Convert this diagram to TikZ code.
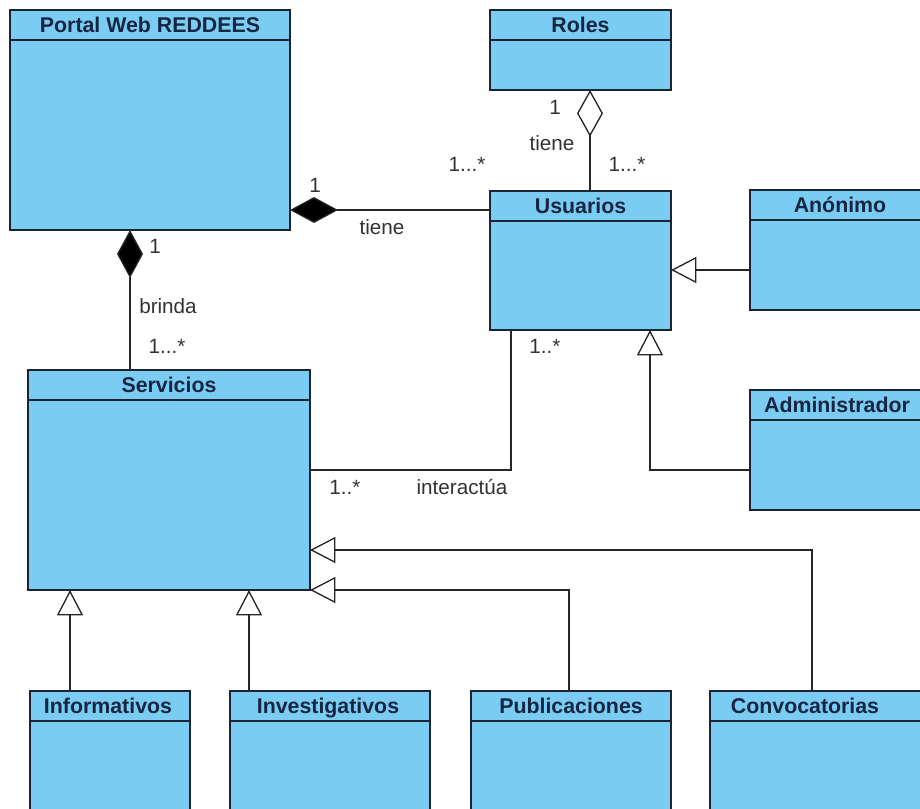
\documentclass[tikz,border=0pt]{standalone}
\usepackage{fontspec}
\setmainfont{Liberation Sans}
\usetikzlibrary{fit,calc,arrows.meta}

\definecolor{clsfill}{RGB}{122,204,242}
\definecolor{clsborder}{RGB}{28,36,52}
\definecolor{clstext}{RGB}{22,38,66}
\definecolor{lbltext}{RGB}{50,50,50}

% one UML class: name, x1, y1, x2, y2, title x, title
\newcommand\umlclass[7]{%
  \coordinate (#1-nw) at (#2,#3);
  \coordinate (#1-se) at (#4,#5);
  \node[clsbox, fit=(#1-nw)(#1-se)] (#1) {};
  \draw[clsrule] (#2,#3+30) -- (#4,#3+30);
  \node[clstitle] (#1-title) at (#6,#3+22.5) {#7};
}

\tikzset{
  clsbox/.style={draw=clsborder, fill=clsfill, line width=1.1pt, inner sep=0pt, outer sep=0pt},
  clsrule/.style={draw=clsborder, line width=1.1pt},
  clstitle/.style={text=clstext, font=\fontsize{16}{18}\selectfont\bfseries, inner sep=0pt, anchor=base},
  lbl/.style={text=lbltext, font=\fontsize{15.5}{18}\selectfont, inner sep=0pt},
  conn/.style={draw=black!85, line width=1pt},
  compo/.style={conn, -{Diamond[length=36pt,width=19.5pt,fill=black]}},
  aggr/.style={conn, -{Diamond[open,length=35pt,width=19.5pt]}},
  gen/.style={conn, -{Triangle[open,length=19pt,width=19.5pt]}},
}

\begin{document}
\begin{tikzpicture}[x=0.75pt,y=-0.75pt]
\useasboundingbox (0,0) rectangle (920,809);

% classes
\umlclass{portal}{10}{10}{290}{230}{150}{Portal Web REDDEES}
\umlclass{roles}{490}{10}{671}{90}{580.5}{Roles}
\umlclass{usuarios}{490}{191}{671}{330}{580.5}{Usuarios}
\umlclass{anonimo}{750}{190}{935}{310}{840}{Anónimo}
\umlclass{admin}{750}{390}{935}{510}{837}{Administrador}
\umlclass{servicios}{28}{370}{310}{590}{169}{Servicios}
\umlclass{informativos}{30}{691}{190}{830}{108}{Informativos}
\umlclass{investigativos}{230}{691}{430}{830}{328}{Investigativos}
\umlclass{publicaciones}{471}{691}{671}{830}{571}{Publicaciones}
\umlclass{convocatorias}{710}{691}{935}{830}{805}{Convocatorias}

% Portal -- Usuarios (composition)
\draw[compo] ($(usuarios.north west)+(0,19)$) coordinate (u1) -- (portal.east |- u1);
\node[lbl] (m1) at (315,185) {1};
\node[lbl] (t1) at (382,227) {tiene};
\node[lbl] (m2) at (467,164) {1...*};

% Portal -- Servicios (composition)
\draw[compo] ($(servicios.north west)+(102,0)$) coordinate (s1) -- (portal.south -| s1);
\node[lbl] (m3) at (155,246) {1};
\node[lbl] (t2) at (168,306) {brinda};
\node[lbl] (m4) at (167,346) {1...*};

% Roles -- Usuarios (aggregation)
\draw[aggr] ($(usuarios.north)+(9.5,0)$) coordinate (u2) -- (roles.south -| u2);
\node[lbl] (m5) at (555,107) {1};
\node[lbl] (t3) at (552,143) {tiene};
\node[lbl] (m6) at (627,164) {1...*};

% Usuarios -- Servicios
\draw[conn] ($(usuarios.south west)+(21,0)$) |- ($(servicios.north east)+(0,100)$);
\node[lbl] (m7) at (545,346) {1..*};
\node[lbl] (m8) at (345,487) {1..*};
\node[lbl] (t4) at (462,487) {interactúa};

% user specialisations
\draw[gen] ($(anonimo.north west)+(0,80)$) coordinate (a1) -- (usuarios.east |- a1);
\draw[gen] ($(admin.north west)+(0,80)$) -| ($(usuarios.south east)+(-21,0)$);

% service specialisations
\draw[gen] ($(informativos.north west)+(40,0)$) coordinate (i1) -- (servicios.south -| i1);
\draw[gen] ($(investigativos.north west)+(19,0)$) coordinate (i2) -- (servicios.south -| i2);
\draw[gen] ($(publicaciones.north west)+(98,0)$) |- (servicios.south east);
\draw[gen] ($(convocatorias.north west)+(102,0)$) |- ($(servicios.south east)+(0,-40)$);
\end{tikzpicture}
\end{document}
